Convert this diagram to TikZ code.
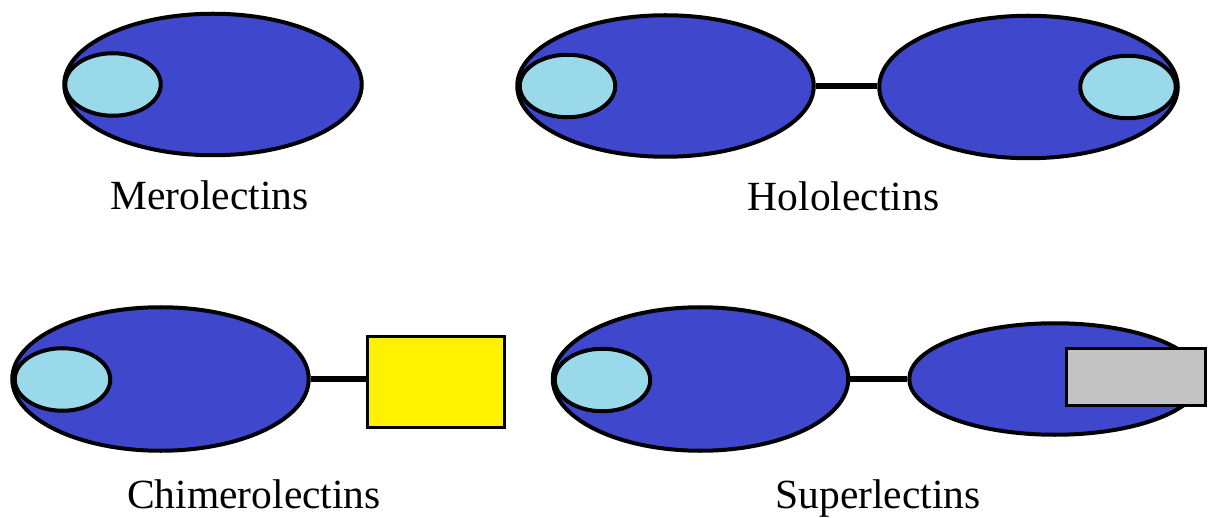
\documentclass[tikz,border=0pt]{standalone}
\usepackage{fontspec}
\setmainfont{Liberation Serif}
\usetikzlibrary{shapes.geometric}
\definecolor{dom}{RGB}{63,72,204}
\definecolor{site}{RGB}{153,217,234}
\definecolor{yel}{RGB}{255,242,0}
\definecolor{gry}{RGB}{195,195,195}
\begin{document}
\begin{tikzpicture}[x=1pt,y=-1pt,
  domainbox/.style={ellipse, draw=black, line width=4pt, fill=dom, inner sep=0pt},
  sitebox/.style={ellipse, draw=black, line width=4pt, fill=site, inner sep=0pt, minimum width=95.5pt, minimum height=62.5pt},
  rectbox/.style={rectangle, draw=black, line width=3.2pt, inner sep=0pt},
  link/.style={draw=black, line width=6pt},
  lbl/.style={anchor=base, inner sep=0pt, font=\fontsize{41.5}{48}\selectfont}]
\useasboundingbox (0,0) rectangle (1209,518);
% Merolectins
\node[domainbox, minimum width=297.5pt, minimum height=141.5pt] (m1) at (213,84.5) {};
\node[sitebox] (m1s) at (113,84.5) {};
\node[lbl] (mlbl) at (209.5,210) {Merolectins};
% Hololectins
\node[domainbox, minimum width=296.5pt, minimum height=141.5pt] (h1) at (665.5,86) {};
\node[sitebox] (h1s) at (567.5,86) {};
\node[domainbox, minimum width=298.5pt, minimum height=142.5pt] (h2) at (1028.5,87) {};
\node[sitebox] (h2s) at (1128,87) {};
\draw[link] (h1.east) -- (h1.east -| h2.west);
\node[lbl] (hlbl) at (843.5,211) {Hololectins};
% Chimerolectins
\node[domainbox, minimum width=296.5pt, minimum height=143.5pt] (c1) at (160.5,379) {};
\node[sitebox] (c1s) at (62.5,379.5) {};
\node[rectbox, fill=yel, minimum width=137pt, minimum height=91pt] (cbox) at (436,382) {};
\draw[link] (c1.east) -- (c1.east -| cbox.west);
\node[lbl] (clbl) at (254,508) {Chimerolectins};
% Superlectins
\node[domainbox, minimum width=295.5pt, minimum height=143.5pt] (s1) at (700.5,379) {};
\node[sitebox] (s1s) at (602.5,380) {};
\node[domainbox, minimum width=291.5pt, minimum height=111.5pt] (s2) at (1055,379) {};
\node[rectbox, fill=gry, minimum width=139pt, minimum height=57pt] (sbox) at (1136,377) {};
\draw[link] (s1.east) -- (s2.west);
\node[lbl] (slbl) at (878,508) {Superlectins};
\end{tikzpicture}
\end{document}
